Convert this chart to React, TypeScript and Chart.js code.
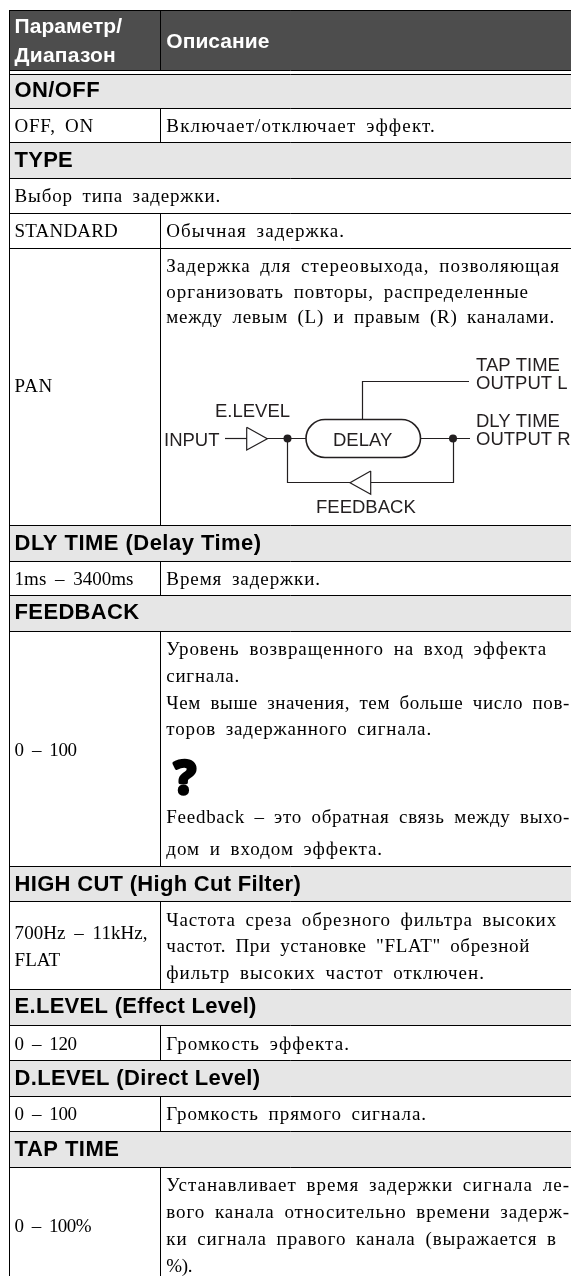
import React, { useEffect, useRef } from "react";
import { Chart, registerables } from "chart.js";

Chart.register(...registerables);

// ---------- table content ----------
const headerLeft = ["Параметр/", "Диапазон"];
const headerRight = ["Описание"];
const sectionTitles = [
  "ON/OFF",
  "TYPE",
  "DLY TIME (Delay Time)",
  "FEEDBACK",
  "HIGH CUT (High Cut Filter)",
  "E.LEVEL (Effect Level)",
  "D.LEVEL (Direct Level)",
  "TAP TIME",
];
const bodyLines = [
  "OFF, ON",
  "Включает/отключает эффект.",
  "Выбор типа задержки.",
  "STANDARD",
  "Обычная задержка.",
  "Задержка для стереовыхода, позволяющая",
  "организовать повторы, распределенные",
  "между левым (L) и правым (R) каналами.",
  "PAN",
  "1ms – 3400ms",
  "Время задержки.",
  "Уровень возвращенного на вход эффекта",
  "сигнала.",
  "Чем выше значения, тем больше число пов-",
  "торов задержанного сигнала.",
  "0 – 100",
  "Feedback – это обратная связь между выхо-",
  "дом и входом эффекта.",
  "700Hz – 11kHz,",
  "FLAT",
  "Частота среза обрезного фильтра высоких",
  "частот. При установке \"FLAT\" обрезной",
  "фильтр высоких частот отключен.",
  "0 – 120",
  "Громкость эффекта.",
  "0 – 100",
  "Громкость прямого сигнала.",
  "0 – 100%",
  "Устанавливает время задержки сигнала ле-",
  "вого канала относительно времени задерж-",
  "ки сигнала правого канала (выражается в",
  "%).",
];
const diagramLabels = ["TAP TIME", "OUTPUT L", "E.LEVEL", "DLY TIME", "INPUT", "DELAY", "OUTPUT R", "FEEDBACK"];

// ---------- layout, in page pixels (the chart's scales run 1:1 with the page) ----------
const COL_L = 14.6;
const COL_R = 166.3;
const bodyX = [COL_L, COL_R, COL_L, COL_L, COL_R, COL_R, COL_R, COL_R, COL_L, COL_L, COL_R, COL_R, COL_R, COL_R, COL_R, COL_L, COL_R, COL_R, COL_L, COL_L, COL_R, COL_R, COL_R, COL_L, COL_R, COL_L, COL_R, COL_L, COL_R, COL_R, COL_R, COL_R];
const bodyBase = [132, 132, 202, 237, 237, 272, 298, 323, 392, 585, 585, 655, 682, 709, 735, 756, 823, 855, 939, 966, 926, 952, 979, 1050, 1050, 1120, 1120, 1232, 1191, 1218, 1244.5, 1272];
const bodyEnd = [94, 436, 221, 118, 345, 560, 529, 555, 53, 133.5, 321, 547, 240, 570, 432, 76.5, 570, 383, 147.5, 60, 557, 530, 485, 76.5, 350, 76.5, 427, 91, 570, 570, 557, 192];
const sectionBase = [97, 167, 550, 619, 891, 1013, 1085, 1156];
const sectionEnd = [100, 73, 261.5, 139.5, 301, 256.7, 260.4, 119.4];
const bandTop = [74, 142, 525, 595, 866, 989, 1060, 1131];
const bandBottom = [108, 178, 561, 631, 901, 1025, 1096, 1167];
const ruleYs = [10.5, 70.5, 74.5, 108.5, 142.5, 178.5, 213.5, 248.5, 525.5, 561.5, 595.5, 631.5, 866.5, 901.5, 989.5, 1025.5, 1060.5, 1096.5, 1131.5, 1167.5];
const dividerSpans = [[10, 71], [108, 143], [213, 526], [561, 596], [631, 867], [901, 990], [1025, 1061], [1096, 1132], [1167, 1276]];
const TABLE_L = 9.5;
const TABLE_R = 571;
const DIV_X = 160.5;
const diagramX = [476, 476, 215, 476, 164, 333, 476, 316];
const diagramBase = [371, 389, 417, 427, 446, 446, 445, 513];

type P = { x: number; y: number };
const wires: P[][] = [
  [{ x: 225, y: 438.5 }, { x: 247, y: 438.5 }],
  [{ x: 267, y: 438.5 }, { x: 306, y: 438.5 }],
  [{ x: 421, y: 438.5 }, { x: 470, y: 438.5 }],
  [{ x: 287.5, y: 438.5 }, { x: 287.5, y: 482.5 }, { x: 350, y: 482.5 }],
  [{ x: 371, y: 482.5 }, { x: 453.5, y: 482.5 }, { x: 453.5, y: 438.5 }],
  [{ x: 362.5, y: 419 }, { x: 362.5, y: 381.5 }, { x: 469, y: 381.5 }],
  [{ x: 246.7, y: 427.3 }, { x: 267.3, y: 438.7 }, { x: 246.7, y: 450 }, { x: 246.7, y: 427.3 }],
  [{ x: 370.7, y: 471 }, { x: 350, y: 482.7 }, { x: 370.7, y: 494.3 }, { x: 370.7, y: 471 }],
];
const nodes: P[] = [{ x: 287.5, y: 438.5 }, { x: 453, y: 438.5 }];
const pill = { x0: 306, x1: 420.5, y0: 419.5, y1: 457.5 };

const HEADER_FILL = "#4d4d4d";
const BAND_FILL = "#e6e6e6";
const INK = "#000000";
const WIRE = "#231f20";
const SERIF = '"Liberation Serif", serif';
const SANS = '"Liberation Sans", Arial, sans-serif';
const BODY_WORD_GAP = 4;

function fillBand(x0: number, x1: number, top: number, bottom: number, color: string) {
  return {
    type: "line" as const,
    data: [{ x: x0, y: top }, { x: x1, y: top }],
    backgroundColor: color,
    borderWidth: 0,
    pointRadius: 0,
    fill: { value: bottom },
    order: 10,
  };
}
function stroke(points: P[], color: string, width: number) {
  return {
    type: "line" as const,
    data: points,
    borderColor: color,
    borderWidth: width,
    pointRadius: 0,
    fill: false,
    tension: 0,
    order: 5,
  };
}

const tablePlugin = {
  id: "tableText",
  afterDatasetsDraw(chart: any) {
    const { ctx, scales } = chart;
    const X = (v: number) => scales.x.getPixelForValue(v);
    const Y = (v: number) => scales.y.getPixelForValue(v);
    ctx.save();
    ctx.textBaseline = "alphabetic";
    ctx.textAlign = "left";

    const fit = (text: string, x: number, y: number, end: number | null, font: string, color: string, wordGap = 0) => {
      ctx.font = font;
      ctx.fillStyle = color;
      (ctx as any).wordSpacing = "0px";
      (ctx as any).letterSpacing = "0px";
      if (end !== null) {
        const spaces = (text.match(/ /g) || []).length;
        const gap = X(end) - X(x) - ctx.measureText(text).width - spaces * wordGap;
        (ctx as any).wordSpacing = wordGap + "px";
        (ctx as any).letterSpacing = gap / text.length + "px";
      }
      ctx.fillText(text, X(x), Y(y));
      (ctx as any).wordSpacing = "0px";
      (ctx as any).letterSpacing = "0px";
    };

    // pill of the DELAY block
    ctx.beginPath();
    ctx.lineWidth = 1.6;
    ctx.strokeStyle = WIRE;
    ctx.roundRect(X(pill.x0), Y(pill.y0), X(pill.x1) - X(pill.x0), Y(pill.y1) - Y(pill.y0), 19);
    ctx.stroke();

    const H = `bold 21px ${SANS}`;
    fit(headerLeft[0], COL_L, 33, 122, H, "#ffffff");
    fit(headerLeft[1], COL_L, 61.5, 116, H, "#ffffff");
    fit(headerRight[0], COL_R, 47.5, 269.5, H, "#ffffff");

    sectionTitles.forEach((t, i) => fit(t, COL_L, sectionBase[i], sectionEnd[i], `bold 22px ${SANS}`, INK));
    bodyLines.forEach((t, i) => fit(t, bodyX[i], bodyBase[i], bodyEnd[i], `19px ${SERIF}`, INK, BODY_WORD_GAP));
    diagramLabels.forEach((t, i) => fit(t, diagramX[i], diagramBase[i], null, `18.5px ${SANS}`, WIRE));

    // the "?" note icon
    const QF = `bold 46px "Open Sans", sans-serif`;
    ctx.font = QF;
    ctx.lineJoin = "round";
    ctx.lineWidth = 3.5;
    ctx.strokeStyle = INK;
    ctx.strokeText("?", X(174), Y(794));
    fit("?", 174, 794, null, QF, INK);
    ctx.restore();
  },
};

export default function App() {
  const ref = useRef<HTMLCanvasElement>(null);
  useEffect(() => {
    if (!ref.current) return;
    const datasets: any[] = [
      fillBand(TABLE_L, TABLE_R, 10, 70, HEADER_FILL),
      ...bandTop.map((t, i) => fillBand(TABLE_L, TABLE_R, t, bandBottom[i], BAND_FILL)),
      ...ruleYs.map((y) => stroke([{ x: TABLE_L, y }, { x: TABLE_R, y }], INK, 1)),
      stroke([{ x: TABLE_L, y: 10 }, { x: TABLE_L, y: 1276 }], INK, 1),
      ...dividerSpans.map(([a, b]) => stroke([{ x: DIV_X, y: a }, { x: DIV_X, y: b }], INK, 1)),
      ...wires.map((w) => stroke(w, WIRE, 1.2)),
      {
        type: "scatter",
        data: nodes,
        pointRadius: 4,
        pointBackgroundColor: WIRE,
        pointBorderWidth: 0,
        order: 1,
      },
    ];
    const chart = new Chart(ref.current, {
      type: "scatter",
      data: { datasets },
      plugins: [tablePlugin],
      options: {
        animation: false,
        responsive: false,
        events: [],
        layout: { padding: 0, autoPadding: false },
        plugins: { legend: { display: false }, tooltip: { enabled: false }, title: { display: false } },
        scales: {
          x: { type: "linear", min: 0, max: 571, display: false },
          y: { type: "linear", min: 0, max: 1276, reverse: true, display: false },
        },
      },
    } as any);
    return () => chart.destroy();
  }, []);
  return (
    <div style={{ position: "absolute", left: 0, top: 0, width: 571, height: 1276, background: "#fff" }}>
      <canvas ref={ref} width={571} height={1276} style={{ display: "block" }} />
    </div>
  );
}
